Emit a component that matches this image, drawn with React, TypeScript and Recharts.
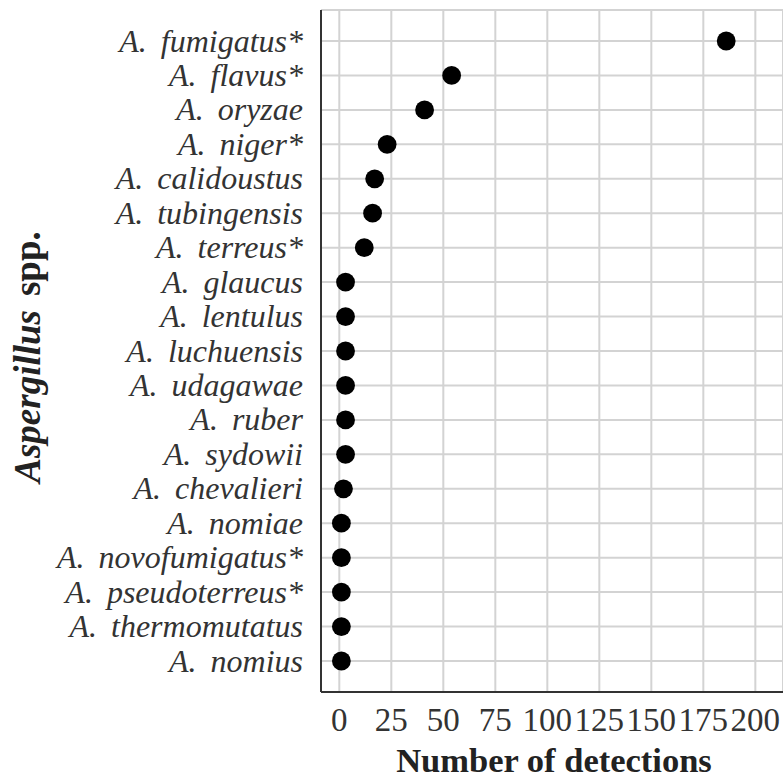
import React from 'react';
import { ScatterChart, Scatter, XAxis, YAxis, CartesianGrid } from 'recharts';

const species = [
  'fumigatus*', 'flavus*', 'oryzae', 'niger*', 'calidoustus', 'tubingensis', 'terreus*',
  'glaucus', 'lentulus', 'luchuensis', 'udagawae', 'ruber', 'sydowii', 'chevalieri',
  'nomiae', 'novofumigatus*', 'pseudoterreus*', 'thermomutatus', 'nomius',
];
const detections = [186, 54, 41, 23, 17, 16, 12, 3, 3, 3, 3, 3, 3, 2, 1, 1, 1, 1, 1];
const xTicks = [0, 25, 50, 75, 100, 125, 150, 175, 200];
const yTicks = species.map((_, i) => i);

const data = species.map((s, i) => ({ name: s, y: i, x: detections[i] }));

const SERIF = '"Liberation Serif", "Times New Roman", serif';

const XTick = (props: any) => {
  const { x, y, payload } = props;
  return (
    <text x={x} y={y + 39} textAnchor="middle" fontFamily={SERIF} fontSize={33} fill="#333">
      {payload.value}
    </text>
  );
};

const YTick = (props: any) => {
  const { x, y, payload } = props;
  const name = species[payload.value];
  return (
    <text x={x - 18} y={y + 10.5} textAnchor="end" fontFamily={SERIF} fontSize={32} fontStyle="italic" fill="#333">
      <tspan>A.</tspan>
      <tspan dx={14}>{name}</tspan>
    </text>
  );
};

const XTitle = (props: any) => {
  const vb = props.viewBox || {};
  const cx = vb.x + vb.width / 2 + 2;
  return (
    <text x={cx} y={772} textAnchor="middle" fontFamily={SERIF} fontSize={34.5} fontWeight="bold" fill="#222">
      Number of detections
    </text>
  );
};

const YTitle = (props: any) => {
  const vb = props.viewBox || {};
  const cy = vb.y + vb.height / 2 + 6;
  const bx = 40;
  return (
    <text
      x={bx}
      y={cy}
      transform={`rotate(-90, ${bx}, ${cy})`}
      textAnchor="middle"
      fontFamily={SERIF}
      fontSize={37}
      fontWeight="bold"
      fill="#222"
    >
      <tspan fontStyle="italic">Aspergillus</tspan>
      <tspan dx={14}>spp.</tspan>
    </text>
  );
};

const Dot = (props: any) => {
  const { cx, cy } = props;
  return <circle cx={cx} cy={cy} r={9.4} fill="#000" />;
};

export default function App() {
  return (
    <div style={{ position: 'absolute', left: 0, top: 0 }}>
      <ScatterChart width={783} height={778} margin={{ top: 10, right: 0, bottom: 0, left: 0 }}>
        <CartesianGrid stroke="#d3d3d3" strokeWidth={2} />
        <XAxis
          type="number"
          dataKey="x"
          domain={[-8.8, 213.3]}
          ticks={xTicks}
          interval={0}
          allowDataOverflow
          height={86}
          tickSize={0}
          tickMargin={0}
          tickLine={false}
          axisLine={{ stroke: '#333', strokeWidth: 2 }}
          tick={<XTick />}
          label={<XTitle />}
        />
        <XAxis
          xAxisId="top"
          orientation="top"
          type="number"
          domain={[-8.8, 213.3]}
          allowDataOverflow
          height={0}
          tick={false}
          tickLine={false}
          axisLine={{ stroke: '#333', strokeWidth: 2 }}
        />
        <YAxis
          type="number"
          dataKey="y"
          domain={[-0.9, 18.9]}
          reversed
          ticks={yTicks}
          interval={0}
          allowDataOverflow
          width={321}
          tickSize={0}
          tickMargin={0}
          tickLine={false}
          axisLine={{ stroke: '#333', strokeWidth: 2 }}
          tick={<YTick />}
          label={<YTitle />}
        />
        <Scatter data={data} isAnimationActive={false} shape={<Dot />} />
      </ScatterChart>
    </div>
  );
}
